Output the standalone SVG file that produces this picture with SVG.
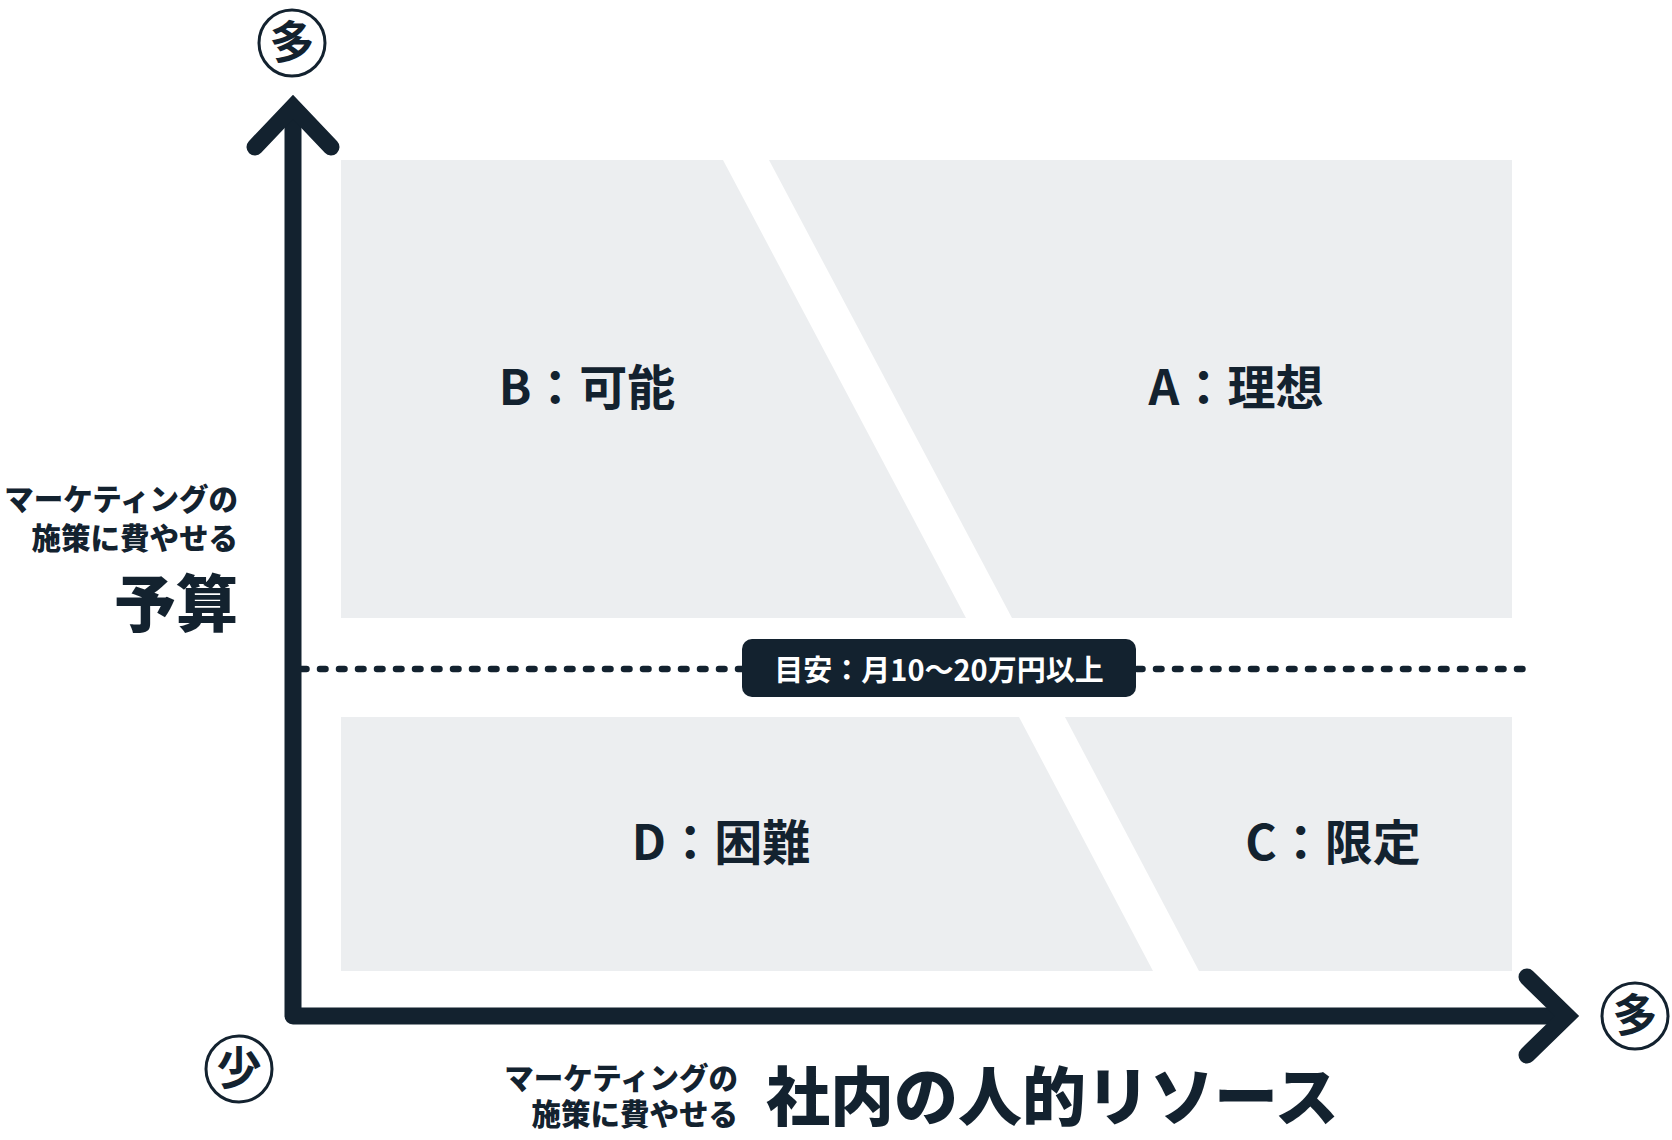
<svg xmlns="http://www.w3.org/2000/svg" width="1672" height="1140" viewBox="0 0 1672 1140">
  <style>
    .q { fill: #ECEEF0; }
    .t { font-family: "Noto Sans CJK JP", "Noto Sans", sans-serif; font-weight: 700; fill: #13222F; }
    .k { font-weight: 900; }
    .ax { fill: none; stroke: #13222F; stroke-width: 17; stroke-linecap: round; stroke-linejoin: round; }
    .hd { fill: none; stroke: #13222F; stroke-width: 17; stroke-linecap: round; stroke-linejoin: miter; stroke-miterlimit: 10; }
    .circ { fill: #FFFFFF; stroke: #13222F; stroke-width: 3; }
    .ct { font-family: "Noto Sans CJK JP", sans-serif; font-weight: 700; fill: #13222F; font-size: 45px; text-anchor: middle; }
  </style>
  <rect width="1672" height="1140" fill="#FFFFFF"/>

  <g id="quadrant-B">
    <polygon class="q" points="341,160 723,160 966,618 341,618"/>
    <text class="t" x="587" y="405" font-size="48" text-anchor="middle">B：可能</text>
  </g>
  <g id="quadrant-A">
    <polygon class="q" points="769,160 1512,160 1512,618 1012,618"/>
    <text class="t" x="1236" y="405" font-size="48" text-anchor="middle">A：理想</text>
  </g>
  <g id="quadrant-D">
    <polygon class="q" points="341,717 1019,717 1153,971 341,971"/>
    <text class="t" x="721" y="860" font-size="48" text-anchor="middle">D：困難</text>
  </g>
  <g id="quadrant-C">
    <polygon class="q" points="1065,717 1512,717 1512,971 1199,971"/>
    <text class="t" x="1333" y="860" font-size="48" text-anchor="middle">C：限定</text>
  </g>

  <g id="connectors">
    <line x1="301" y1="669" x2="1529" y2="669" stroke="#13222F" stroke-width="6.5" stroke-linecap="round" stroke-dasharray="5.5 13.5"/>
    <path class="ax" d="M293,108 V1016 H1566"/>
    <polyline class="hd" points="255,147 293,107 331,147"/>
    <polyline class="hd" points="1527,977 1567,1016 1527,1055"/>
  </g>

  <g id="threshold-label">
    <rect x="742" y="639" width="394" height="58" rx="10" fill="#13222F"/>
    <text class="t" x="939" y="681" font-size="29" text-anchor="middle" style="fill:#FFFFFF">目安：月10〜20万円以上</text>
  </g>

  <g id="y-axis-label">
    <text class="t k" x="238" y="510" font-size="29.5" text-anchor="end">マーケティングの</text>
    <text class="t k" x="238" y="549" font-size="29.5" text-anchor="end">施策に費やせる</text>
    <text class="t k" x="238" y="627" font-size="62" text-anchor="end">予算</text>
  </g>

  <g id="x-axis-label">
    <text class="t k" x="738" y="1089" font-size="29.5" text-anchor="end">マーケティングの</text>
    <text class="t k" x="738" y="1125" font-size="29.5" text-anchor="end">施策に費やせる</text>
    <text class="t k" x="766" y="1120" font-size="64">社内の人的リソース</text>
  </g>

  <g id="marker-top">
    <circle class="circ" cx="292" cy="43" r="33"/>
    <text class="ct" x="292" y="59">多</text>
  </g>
  <g id="marker-origin">
    <circle class="circ" cx="239" cy="1069" r="33"/>
    <text class="ct" x="239" y="1085">少</text>
  </g>
  <g id="marker-right">
    <circle class="circ" cx="1635" cy="1016" r="33"/>
    <text class="ct" x="1635" y="1032">多</text>
  </g>
</svg>
